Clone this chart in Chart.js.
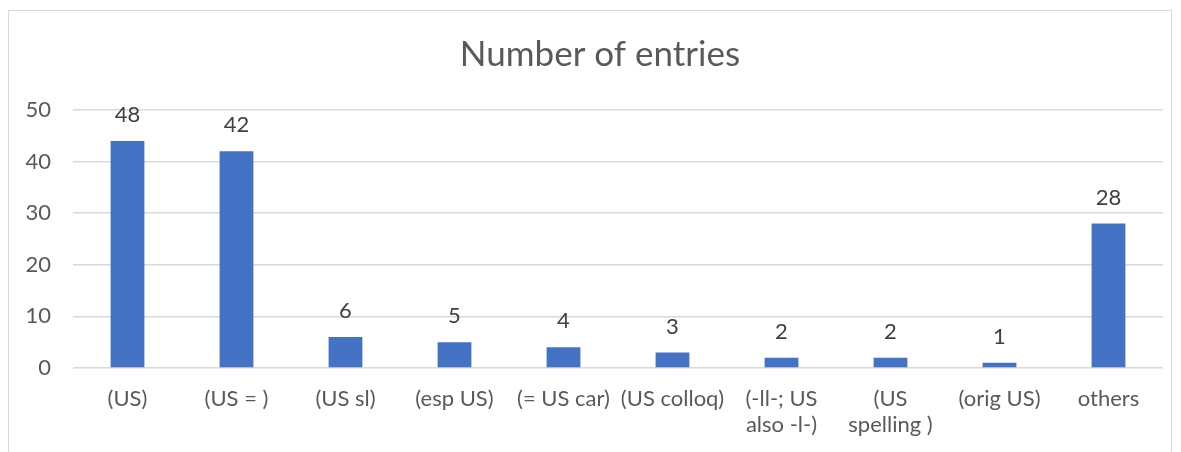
<!DOCTYPE html>
<html>
<head>
<meta charset="utf-8">
<script src="https://cdn.jsdelivr.net/npm/chart.js@4/dist/chart.umd.min.js"></script>
<style>
  html, body { margin: 0; padding: 0; background: #fff; }
  #wrap { position: relative; width: 1181px; height: 452px; }
  #frame { position: absolute; left: 8px; top: 10px; width: 1164px; height: 460px; border: 1px solid #d9d9d9; box-sizing: border-box; pointer-events: none; }
  canvas { position: absolute; left: 0; top: 0; }
</style>
</head>
<body>
<div id="wrap">
  <canvas id="c" width="1181" height="452"></canvas>
  <div id="frame"></div>
</div>
<script>
const chartTitle = 'Number of entries';
const categories = ['(US)', '(US = )', '(US sl)', '(esp US)', '(= US car)', '(US colloq)', ['(-ll-; US', 'also -l-)'], ['(US', 'spelling )'], '(orig US)', 'others'];
const barValues = [44, 42, 6, 5, 4, 3, 2, 2, 1, 28];
const dataLabels = ['48', '42', '6', '5', '4', '3', '2', '2', '1', '28'];
const yTicks = [0, 10, 20, 30, 40, 50];

const FONT = 'Lato, "Open Sans", sans-serif';

const labelPlugin = {
  id: 'barLabels',
  afterDatasetsDraw(chart) {
    const ctx = chart.ctx;
    const meta = chart.getDatasetMeta(0);
    ctx.save();
    ctx.font = '22px ' + FONT;
    ctx.fillStyle = '#404040';
    ctx.textAlign = 'center';
    ctx.textBaseline = 'middle';
    meta.data.forEach((bar, i) => {
      ctx.fillText(dataLabels[i], bar.x, bar.y - 26);
    });
    // chart title
    ctx.font = '35px ' + FONT;
    ctx.fillStyle = '#595959';
    ctx.fillText(chartTitle, 600, 55);
    ctx.restore();
  }
};

new Chart(document.getElementById('c'), {
  type: 'bar',
  data: {
    labels: categories,
    datasets: [{
      data: barValues,
      backgroundColor: '#4472C4',
      borderWidth: 0,
      barPercentage: 0.31,
      categoryPercentage: 1
    }]
  },
  options: {
    responsive: false,
    animation: false,
    layout: { padding: { left: 0, right: 18, top: 110, bottom: 0 } },
    plugins: {
      legend: { display: false },
      tooltip: { enabled: false },
      title: { display: false }
    },
    scales: {
      x: {
        grid: { display: false },
        border: { display: false },
        ticks: {
          color: '#595959',
          font: { family: FONT, size: 22, lineHeight: 1.18 },
          maxRotation: 0,
          autoSkip: false,
          padding: 10
        },
        afterFit(scale) { scale.height = 84; }
      },
      y: {
        min: 0,
        max: 50,
        afterBuildTicks(scale) { scale.ticks = yTicks.map(v => ({ value: v })); },
        grid: { color: '#d9d9d9', lineWidth: 1.5, drawTicks: false },
        border: { display: false },
        ticks: {
          color: '#595959',
          font: { family: FONT, size: 22 },
          padding: 22
        },
        afterFit(scale) { scale.width = 73; }
      }
    }
  },
  plugins: [labelPlugin]
});
</script>
</body>
</html>
